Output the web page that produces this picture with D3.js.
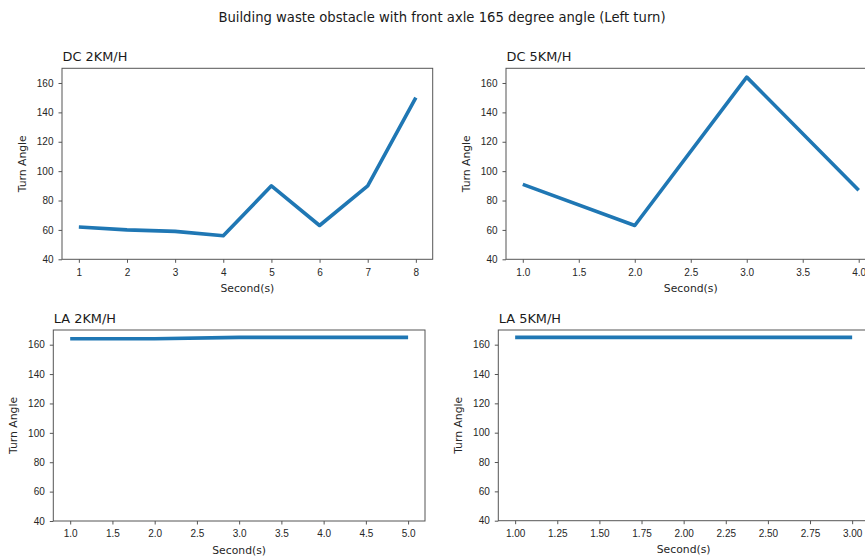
<!DOCTYPE html>
<html>
<head>
<meta charset="utf-8">
<script src="https://cdn.jsdelivr.net/npm/d3@7"></script>
<style>
  html, body { margin: 0; padding: 0; background: #fff; }
  svg { display: block; font-family: "DejaVu Sans", sans-serif; }
  .tick text { fill: #262626; font-size: 10px; }
  .tick line { stroke: #555; }
  .domain { display: none; }
</style>
</head>
<body>
<svg id="chart" width="865" height="557"></svg>
<script>
// Turn angle readings per second for each run
const figTitle = "Building waste obstacle with front axle 165 degree angle (Left turn)";
const panelTitles = ["DC 2KM/H", "DC 5KM/H", "LA 2KM/H", "LA 5KM/H"];

const dc2Seconds = [1, 2, 3, 4, 5, 6, 7, 8];
const dc2Angles  = [62, 60, 59, 56, 90, 63, 90, 150];

const dc5Seconds = [1, 2, 3, 4];
const dc5Angles  = [91, 63, 164, 87];

const la2Seconds = [1, 2, 3, 4, 5];
const la2Angles  = [164, 164, 165, 165, 165];

const la5Seconds = [1, 2, 3];
const la5Angles  = [165, 165, 165];

const yTicks = [40, 60, 80, 100, 120, 140, 160];
const xTicksDc2 = [1, 2, 3, 4, 5, 6, 7, 8];
const xTicksDc5 = [1.0, 1.5, 2.0, 2.5, 3.0, 3.5, 4.0];
const xTicksLa2 = [1.0, 1.5, 2.0, 2.5, 3.0, 3.5, 4.0, 4.5, 5.0];
const xTicksLa5 = [1.00, 1.25, 1.50, 1.75, 2.00, 2.25, 2.50, 2.75, 3.00];

const yLabel = "Turn Angle";
const xLabel = "Second(s)";
const lineColor = "#1f77b4";

// Layout of the four axes boxes
const panels = [
  { title: panelTitles[0], xs: dc2Seconds, ys: dc2Angles, ticks: xTicksDc2, fmt: d3.format("d"),
    box: { left: 62, right: 432.7, top: 68.3, bottom: 259.3 }, ylabX: 22 },
  { title: panelTitles[1], xs: dc5Seconds, ys: dc5Angles, ticks: xTicksDc5, fmt: d3.format(".1f"),
    box: { left: 506, right: 875.5, top: 68.3, bottom: 259.3 }, ylabX: 466 },
  { title: panelTitles[2], xs: la2Seconds, ys: la2Angles, ticks: xTicksLa2, fmt: d3.format(".1f"),
    box: { left: 53.3, right: 425, top: 330, bottom: 521 }, ylabX: 13.5 },
  { title: panelTitles[3], xs: la5Seconds, ys: la5Angles, ticks: xTicksLa5, fmt: d3.format(".2f"),
    box: { left: 498.3, right: 869, top: 330, bottom: 520.7 }, ylabX: 458.5 }
];

const svg = d3.select("#chart");

svg.append("text")
  .attr("x", 442).attr("y", 21.5)
  .attr("text-anchor", "middle")
  .attr("font-size", 13.2)
  .attr("fill", "#1a1a1a")
  .text(figTitle);

panels.forEach(p => {
  const b = p.box;
  const [x0, x1] = d3.extent(p.xs);
  const pad = (x1 - x0) * 0.05;
  const x = d3.scaleLinear().domain([x0 - pad, x1 + pad]).range([b.left, b.right]);
  const y = d3.scaleLinear().domain([40, 170]).range([b.bottom, b.top]);

  const g = svg.append("g");

  // x axis
  g.append("g")
    .attr("transform", `translate(0,${b.bottom})`)
    .call(d3.axisBottom(x).tickValues(p.ticks).tickFormat(p.fmt)
      .tickSize(3.5).tickSizeOuter(0).tickPadding(5.7));

  // y axis
  g.append("g")
    .attr("transform", `translate(${b.left},0)`)
    .call(d3.axisLeft(y).tickValues(yTicks).tickFormat(d3.format("d"))
      .tickSize(3.5).tickSizeOuter(0).tickPadding(5));

  // data line
  const pts = p.xs.map((d, i) => [d, p.ys[i]]);
  g.append("path")
    .datum(pts)
    .attr("fill", "none")
    .attr("stroke", lineColor)
    .attr("stroke-width", 3.6)
    .attr("stroke-linejoin", "round")
    .attr("d", d3.line().x(d => x(d[0])).y(d => y(d[1])));

  // frame
  g.append("rect")
    .attr("x", b.left).attr("y", b.top)
    .attr("width", b.right - b.left).attr("height", b.bottom - b.top)
    .attr("fill", "none").attr("stroke", "#555").attr("stroke-width", 1);

  // panel title
  g.append("text")
    .attr("x", b.left + 0.5).attr("y", b.top - 7.5)
    .attr("font-size", 12.9).attr("fill", "#1a1a1a")
    .text(p.title);

  // axis labels
  g.append("text")
    .attr("x", (b.left + b.right) / 2).attr("y", b.bottom + 32.5)
    .attr("text-anchor", "middle")
    .attr("font-size", 10.8).attr("fill", "#262626")
    .text(xLabel);

  g.append("text")
    .attr("transform", `translate(${p.ylabX},${(b.top + b.bottom) / 2}) rotate(-90)`)
    .attr("text-anchor", "middle")
    .attr("dominant-baseline", "central")
    .attr("font-size", 10.8).attr("fill", "#262626")
    .text(yLabel);
});
</script>
</body>
</html>
